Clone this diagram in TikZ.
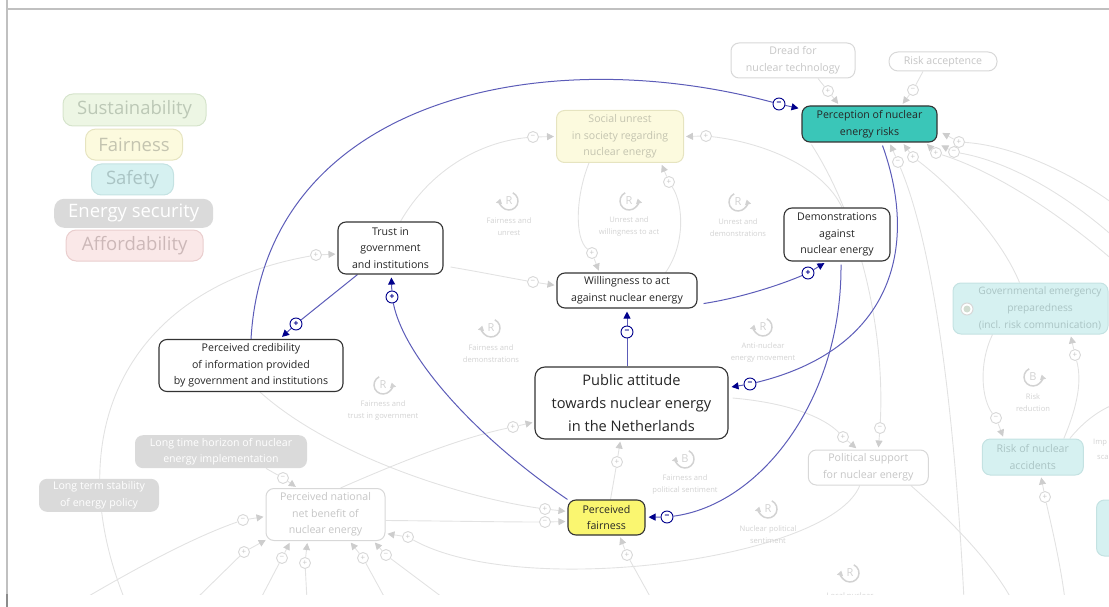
\documentclass[tikz,border=0pt]{standalone}
\usepackage{fontspec}
\setmainfont{Open Sans}
\usetikzlibrary{arrows.meta,calc}
\pgfdeclarelayer{links}
\pgfsetlayers{links,main}

\definecolor{navytip}{RGB}{0,0,140}
\definecolor{linkblue}{RGB}{92,92,184}
\definecolor{fadeline}{RGB}{226,226,226}
\definecolor{fadetip}{RGB}{205,205,205}
\definecolor{fadetext}{RGB}{198,198,198}
\definecolor{fadeborder}{RGB}{216,216,216}
\definecolor{framegray}{RGB}{192,192,192}
\definecolor{riskteal}{RGB}{58,198,184}
\definecolor{fairyellow}{RGB}{250,246,112}
\definecolor{sustfill}{RGB}{237,246,228}
\definecolor{sustdraw}{RGB}{214,228,204}
\definecolor{susttext}{RGB}{188,200,182}
\definecolor{fairfill}{RGB}{252,250,222}
\definecolor{fairdraw}{RGB}{230,228,192}
\definecolor{fairtext}{RGB}{196,196,176}
\definecolor{safefill}{RGB}{214,241,241}
\definecolor{safedraw}{RGB}{196,226,226}
\definecolor{safetext}{RGB}{170,196,196}
\definecolor{secfill}{RGB}{218,218,218}
\definecolor{afffill}{RGB}{250,232,232}
\definecolor{affdraw}{RGB}{234,206,206}
\definecolor{afftext}{RGB}{204,184,184}
\definecolor{loopgray}{RGB}{210,210,210}

\newcommand\fbloop[7]{% name, x, y, letter, arrow side (l/r), label, label offset
  \node[loopletter] (#1) at (#2,#3) {#4};
  \node[looplabel] (#1-lab) at (#2,#3+#7) {#6};
  \begin{scope}[shift={(#2,#3)}, yscale=-1]
    \if l#5
      \draw[looparc] (65:9) arc[start angle=65, end angle=-195, radius=9];
    \else
      \draw[looparc] (115:9) arc[start angle=115, end angle=375, radius=9];
    \fi
  \end{scope}}

\begin{document}
\begin{tikzpicture}[x=1pt,y=-1pt,
  mainbox/.style={draw=black!80, line width=1.1pt, rounded corners=8pt, fill=white,
    align=center, inner sep=0pt, text=black!85, font=\fontsize{10.6}{16.6}\selectfont},
  fadebox/.style={draw=fadeborder, line width=1pt, rounded corners=8pt, fill=white,
    align=center, inner sep=0pt, text=fadetext, font=\fontsize{10.6}{16.6}\selectfont},
  greybox/.style={fill=secfill, rounded corners=8pt, align=center, inner sep=0pt,
    text=white, font=\fontsize{10.6}{16.6}\selectfont},
  cyanbox/.style={fadebox, fill=safefill, draw=safedraw, text=safetext},
  legend/.style={rounded corners=10pt, line width=1pt, align=center, inner sep=0pt,
    font=\fontsize{18.5}{20}\selectfont},
  bluelink/.style={draw=linkblue, line width=1pt},
  bluearrow/.style={bluelink, -{Triangle[length=7pt,width=7pt,color=navytip]}, shorten >=3pt},
  bpol/.style={circle, draw=navytip, line width=0.9pt, fill=white, minimum size=12pt,
    inner sep=0pt, text=navytip, font=\fontsize{8.5}{8.5}\bfseries\selectfont},
  graylink/.style={draw=fadeline, line width=0.9pt},
  grayarrow/.style={graylink, -{Triangle[length=7pt,width=7pt,color=fadetip]}, shorten >=2pt},
  gpol/.style={circle, draw=fadeborder, line width=0.9pt, fill=white, minimum size=11pt,
    inner sep=0pt, text=fadetext, font=\fontsize{8}{8}\selectfont},
  loopletter/.style={inner sep=0pt, text=loopgray, font=\fontsize{11}{11}\selectfont},
  looplabel/.style={inner sep=0pt, align=center, text=loopgray, font=\fontsize{7.6}{12.4}\selectfont},
  looparc/.style={draw=loopgray, line width=1.5pt, -{Triangle[length=5pt,width=6pt]}},
]
\useasboundingbox (0,0) rectangle (1109,607);

% window frame
\draw[framegray, line width=1.3pt] (7,9) -- (1109,9);
\draw[framegray, line width=1.3pt] (7,0) -- (7,594);
\draw[black!45, line width=1.3pt] (7,594) -- (7,607);

\begin{scope}
\clip (8,10) rectangle (1109,594);

% legend of themes
\node[legend, fill=sustfill, draw=sustdraw, text=susttext, minimum width=143pt, minimum height=32pt] (lgsust) at (134.5,110) {Sustainability};
\node[legend, fill=fairfill, draw=fairdraw, text=fairtext, minimum width=97pt, minimum height=31pt] (lgfair) at (134,144.6) {Fairness};
\node[legend, fill=safefill, draw=safedraw, text=safetext, minimum width=82pt, minimum height=31pt] (lgsafe) at (132.5,179.5) {Safety};
\node[legend, fill=secfill, text=white, minimum width=159pt, minimum height=29pt] (lgsec) at (133.7,213.3) {Energy security};
\node[legend, fill=afffill, draw=affdraw, text=afftext, minimum width=137pt, minimum height=31pt] (lgaff) at (134.7,245.5) {Affordability};

% faded variables
\node[fadebox, minimum width=124pt, minimum height=35pt] (dread) at (793,60.5) {Dread for\\nuclear technology};
\node[fadebox, rounded corners=9pt, minimum width=108pt, minimum height=19pt] (racc) at (943,61.5) {Risk acceptence};
\node[fadebox, fill=fairfill, draw=fairdraw, text=fairtext, minimum width=127pt, minimum height=52pt] (unrest) at (620,136.5) {Social unrest\\in society regarding\\nuclear energy};
\node[cyanbox, minimum width=155pt, minimum height=51pt] (gov) at (1030.5,308.5) {};
\node[inner sep=0pt, align=center, text=safetext, font=\fontsize{10.2}{16.6}\selectfont] (govtext) at (1040,308.5) {Governmental emergency\\preparedness\\(incl. risk communication)};
\node[circle, draw=fadeborder, fill=white, line width=1pt, minimum size=12pt, inner sep=0pt] (govicon) at (967,309) {};
\node[circle, fill=green!25!black!18, minimum size=7pt, inner sep=0pt] (govdot) at (967,309) {};
\node[cyanbox, minimum width=101pt, minimum height=36pt] (acc) at (1032.8,457) {Risk of nuclear\\accidents};
\node[cyanbox, minimum width=40pt, minimum height=56pt, anchor=west] (edge) at (1096,528) {};
\node[fadebox, minimum width=120pt, minimum height=35pt] (pol) at (868.3,467.5) {Political support\\for nuclear energy};
\node[fadebox, minimum width=119pt, minimum height=52pt] (nat) at (325.5,514.5) {Perceived national\\net benefit of\\nuclear energy};
\node[greybox, minimum width=172pt, minimum height=33pt] (lth) at (221,451.7) {Long time horizon of nuclear\\energy implementation};
\node[greybox, minimum width=120pt, minimum height=33pt] (lts) at (99,495.3) {Long term stability\\of energy policy};
\node[looplabel, anchor=west] (imp1) at (1093,443) {Imp};
\node[looplabel, anchor=west] (imp2) at (1097,457) {sca};

% main variables
\node[mainbox, minimum width=105pt, minimum height=52pt] (trust) at (390.5,248) {Trust in\\government\\and institutions};
\node[mainbox, minimum width=184pt, minimum height=52pt] (cred) at (251,365.5) {Perceived credibility\\of information provided\\by government and institutions};
\node[mainbox, minimum width=140pt, minimum height=35pt] (will) at (627,290.5) {Willingness to act\\against nuclear energy};
\node[mainbox, minimum width=106pt, minimum height=53pt] (demo) at (837,234.5) {Demonstrations\\against\\nuclear energy};
\node[mainbox, minimum width=193pt, minimum height=72pt, rounded corners=10pt, font=\fontsize{14.6}{23}\selectfont] (pub) at (631.5,403) {Public attitude\\towards nuclear energy\\in the Netherlands};
\node[mainbox, fill=fairyellow, minimum width=77pt, minimum height=35pt] (fair) at (606.5,517.5) {Perceived\\fairness};
\node[mainbox, fill=riskteal, minimum width=135pt, minimum height=36pt] (risk) at (869.5,124) {Perception of nuclear\\energy risks};

% feedback loop markers
\fbloop{loopA}{509}{201}{R}{l}{Fairness and\\unrest}{25.5}
\fbloop{loopB}{629}{201}{R}{r}{Unrest and\\willingness to act}{25.5}
\fbloop{loopC}{738}{202}{R}{r}{Unrest and\\demonstrations}{25.5}
\fbloop{loopD}{491}{328}{R}{l}{Fairness and\\demonstrations}{25.5}
\fbloop{loopE}{763}{327}{R}{l}{Anti-nuclear\\energy movement}{25.5}
\fbloop{loopF}{383}{385}{R}{r}{Fairness and\\trust in government}{25.5}
\fbloop{loopG}{685}{459}{B}{l}{Fairness and\\political sentiment}{25.5}
\fbloop{loopH}{768}{509}{R}{l}{Nuclear political\\sentiment}{25.5}
\fbloop{loopI}{1033}{377}{B}{r}{Risk\\reduction}{25.5}
\fbloop{loopJ}{850}{573}{R}{l}{Local nuclear}{23}

% polarity markers of the faded links
\node[gpol] (g1) at (592,253) {+};
\node[gpol] (g2) at (669,182) {+};
\node[gpol] (g3) at (533,137) {−};
\node[gpol] (g4) at (533,282) {−};
\node[gpol] (g5) at (706,136) {+};
\node[gpol] (g6) at (828,91) {+};
\node[gpol] (g7) at (913,90) {−};
\node[gpol] (g8) at (283,478) {−};
\node[gpol] (g9) at (513,427) {+};
\node[gpol] (g10) at (545,509) {+};
\node[gpol] (g11) at (545,522) {−};
\node[gpol] (g12) at (408,537) {+};
\node[gpol] (g13) at (627,555) {+};
\node[gpol] (g14) at (617,462) {+};
\node[gpol] (g15) at (843,437) {+};
\node[gpol] (g16) at (880,428) {−};
\node[gpol] (g17) at (996,418) {−};
\node[gpol] (g18) at (1075,355) {+};
\node[gpol] (g20) at (1045,497) {+};
\node[gpol] (g22) at (898,162) {−};
\node[gpol] (g23) at (913,157) {+};
\node[gpol] (g24) at (936,153) {+};
\node[gpol] (g25) at (954,152) {−};
\node[gpol] (g26) at (959,142) {+};
\node[gpol] (g27) at (316,255) {+};
\node[gpol] (g28a) at (243,520) {−};
\node[gpol] (g28b) at (244,552) {+};
\node[gpol] (g28c) at (282,558) {−};
\node[gpol] (g28d) at (305,563) {+};
\node[gpol] (g28e) at (363,558) {+};
\node[gpol] (g28f) at (386,555) {−};

% polarity markers of the highlighted links
\node[bpol] (b1) at (779,104) {−};
\node[bpol] (b2) at (296,324) {+};
\node[bpol] (b3) at (392,297) {+};
\node[bpol] (b4) at (627,332) {−};
\node[bpol] (b5) at (808,273) {+};
\node[bpol] (b6) at (750,384) {−};
\node[bpol] (b7) at (667,517) {−};

% loose ends of links leaving the visible area
\coordinate (outA) at (125,600);
\coordinate (outB) at (82,600);
\coordinate (outC) at (195,600);
\coordinate (outD) at (260,600);
\coordinate (outE) at (307,600);
\coordinate (outF) at (386,600);
\coordinate (outG) at (446,600);
\coordinate (outH) at (652,600);
\coordinate (outI) at (964,600);
\coordinate (outJ) at (1012,600);
\coordinate (outK) at (1065,600);
\coordinate (outL) at (1115,404);
\coordinate (outM) at (1115,262);
\coordinate (outN) at (1115,238);
\coordinate (outO) at (1115,205);
\end{scope}

\begin{pgfonlayer}{links}
\begin{scope}
\clip (8,10) rectangle (1109,594);
% faded links
\draw[graylink] ($(unrest.south west)+(33,0)$) .. controls (576,195) and (574,238) .. (g1);
\draw[grayarrow] (g1) -- ($(will.north west)+(43,0)$);
\draw[graylink] ($(will.north east)+(-32,0)$) .. controls (685,245) and (684,205) .. (g2);
\draw[grayarrow] (g2) -- ($(unrest.south)+(41,0)$);
\draw[graylink] ($(trust.north)+(10,0)$) .. controls (430,170) and (480,142) .. (g3);
\draw[grayarrow] (g3) -- (unrest.west);
\draw[graylink] ($(trust.east)+(7,19)$) .. controls (480,272) and (505,277) .. (g4);
\draw[grayarrow] (g4) -- ($(will.west)+(0,-5)$);
\draw[graylink] ($(demo.north)+(5,0)$) .. controls (822,165) and (760,142) .. (g5);
\draw[grayarrow] (g5) -- (unrest.east);
\draw[graylink] ($(dread.south)+(25,0)$) -- (g6);
\draw[grayarrow] (g6) -- ($(risk.north)+(-30,0)$);
\draw[graylink] ($(racc.south)+(-20,0)$) -- (g7);
\draw[grayarrow] (g7) -- ($(risk.north)+(32,0)$);
\draw[graylink] ($(lth.south)+(45,0)$) -- (g8);
\draw[grayarrow] (g8) -- ($(nat.north west)+(32,0)$);
\draw[graylink] ($(nat.north east)+(-45,0)$) .. controls (400,462) and (460,438) .. (g9);
\draw[grayarrow] (g9) -- ($(pub.west)+(0,19)$);
\draw[graylink] ($(cred.south)+(9,0)$) .. controls (330,455) and (460,497) .. (g10);
\draw[grayarrow] (g10) -- ($(fair.west)+(0,-6)$);
\draw[graylink] ($(nat.east)+(0,6)$) .. controls (450,521) and (500,522) .. (g11);
\draw[grayarrow] (g11) -- ($(fair.west)+(0,4)$);
\draw[graylink] ($(pol.south west)+(52,0)$) .. controls (830,560) and (520,600) .. (g12);
\draw[grayarrow] (g12) -- ($(nat.east)+(0,19)$);
\draw[graylink] (outH) -- (g13);
\draw[grayarrow] (g13) -- ($(fair.south)+(13,0)$);
\draw[graylink] ($(fair.north)+(4,0)$) -- (g14);
\draw[grayarrow] (g14) -- ($(pub.south)+(-11,0)$);
\draw[graylink] ($(pub.east)+(4,-5)$) .. controls (790,403) and (825,418) .. (g15);
\draw[grayarrow] (g15) -- ($(pol.north west)+(50,0)$);
\draw[graylink] ($(risk.south west)+(10,2)$) .. controls (860,220) and (885,330) .. (g16);
\draw[grayarrow] (g16) -- ($(pol.north)+(10,0)$);
\draw[graylink] ($(gov.south west)+(40,0)$) .. controls (978,365) and (982,400) .. (g17);
\draw[grayarrow] (g17) -- ($(acc.north west)+(22,0)$);
\draw[graylink] ($(acc.north east)+(-20,0)$) .. controls (1078,405) and (1082,380) .. (g18);
\draw[grayarrow] (g18) -- ($(gov.south)+(40,0)$);
\draw[graylink] ($(acc.north east)+(-14,0)$) .. controls (1085,420) and (1100,410) .. (outL);
\draw[graylink] (outK) .. controls (1060,560) and (1050,520) .. (g20);
\draw[grayarrow] (g20) -- ($(acc.south)+(8,0)$);
\draw[graylink] ($(pol.south east)+(-18,0)$) .. controls (950,520) and (990,560) .. (outJ);
\draw[graylink] (outI) .. controls (955,420) and (935,250) .. (g22);
\draw[grayarrow] (g22) -- ($(risk.south)+(20,0)$);
\draw[graylink] ($(gov.north west)+(67,0)$) .. controls (1000,235) and (950,185) .. (g23);
\draw[grayarrow] (g23) -- ($(risk.south)+(33,0)$);
\draw[graylink] (outM) .. controls (1050,205) and (985,168) .. (g24);
\draw[grayarrow] (g24) -- ($(risk.south east)+(-12,0)$);
\draw[graylink] (outN) .. controls (1055,185) and (1000,160) .. (g25);
\draw[grayarrow] (g25) -- ($(risk.south east)+(2,2)$);
\draw[graylink] (outO) .. controls (1060,165) and (1005,145) .. (g26);
\draw[grayarrow] (g26) -- ($(risk.east)+(3,8)$);
\draw[graylink] (outA) .. controls (60,440) and (120,290) .. (g27);
\draw[grayarrow] (g27) -- ($(trust.west)+(0,6)$);
\draw[graylink] (outB) .. controls (150,560) and (200,535) .. (g28a);
\draw[grayarrow] (g28a) -- ($(nat.west)+(0,2)$);
\draw[graylink] (outC) -- (g28b);
\draw[grayarrow] (g28b) -- ($(nat.south west)+(2,-2)$);
\draw[graylink] (outD) -- (g28c);
\draw[grayarrow] (g28c) -- ($(nat.south)+(-35,0)$);
\draw[graylink] (outE) -- (g28d);
\draw[grayarrow] (g28d) -- ($(nat.south)+(-18,0)$);
\draw[graylink] (outF) -- (g28e);
\draw[grayarrow] (g28e) -- ($(nat.south)+(24,0)$);
\draw[graylink] (outG) -- (g28f);
\draw[grayarrow] (g28f) -- ($(nat.south east)+(-12,0)$);

% highlighted links
\draw[bluelink] (cred.north) .. controls (265,100) and (540,40) .. (b1);
\draw[bluearrow] (b1) -- (risk);
\draw[bluelink] (trust) -- (b2);
\draw[bluearrow] (b2) -- (cred);
\draw[bluelink] (fair.north west) .. controls (480,440) and (405,360) .. (b3);
\draw[bluearrow] (b3) -- (trust);
\draw[bluelink] (b4 |- pub.north) -- (b4);
\draw[bluearrow] (b4) -- (will);
\draw[bluelink] ($(will.south east)+(6,-5)$) .. controls (740,298) and (780,285) .. (b5);
\draw[bluearrow] (b5) -- ($(demo.south)+(-10,0)$);
\draw[bluelink] ($(risk.south)+(13,3)$) .. controls (920,250) and (890,350) .. (b6);
\draw[bluearrow] (b6) -- (pub);
\draw[bluelink] ($(demo.south)+(4,3)$) .. controls (842,400) and (760,505) .. (b7);
\draw[bluearrow] (b7) -- (fair);
\end{scope}
\end{pgfonlayer}
\end{tikzpicture}
\end{document}
